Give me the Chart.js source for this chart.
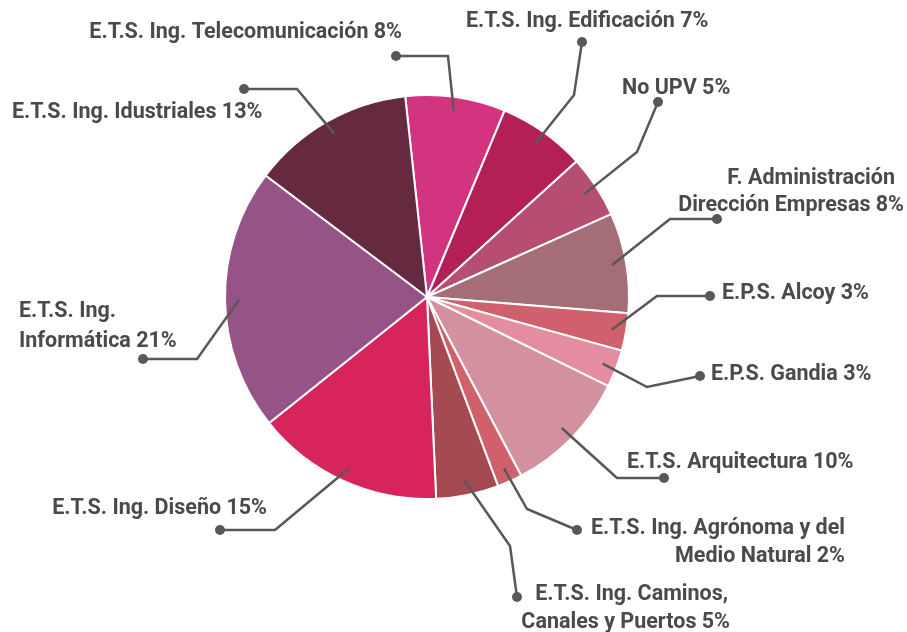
<!DOCTYPE html>
<html>
<head>
<meta charset="utf-8">
<script src="https://cdn.jsdelivr.net/npm/chart.js@4.4.1/dist/chart.umd.min.js"></script>
<style>
  html, body { margin: 0; padding: 0; background: #fff; }
  #wrap { width: 907px; height: 632px; position: relative; }
</style>
</head>
<body>
<div id="wrap"><canvas id="chart"></canvas></div>
<script>
// slices, clockwise from the top ('|' marks a line break in the callout)
const categories = [
	'E.T.S. Ing. Telecomunicación',
	'E.T.S. Ing. Edificación',
	'No UPV',
	'F. Administración|Dirección Empresas',
	'E.P.S. Alcoy',
	'E.P.S. Gandia',
	'E.T.S. Arquitectura',
	'E.T.S. Ing. Agrónoma y del|Medio Natural',
	'E.T.S. Ing. Caminos,|Canales y Puertos',
	'E.T.S. Ing. Diseño',
	'E.T.S. Ing.|Informática',
	'E.T.S. Ing. Idustriales'
];
const shares = [8, 7, 5, 8, 3, 3, 10, 2, 5, 15, 21, 13];
const colors = [
	'#D3347F', '#B22056', '#B54E72', '#A56E77', '#D0606B', '#E48DA0',
	'#D3909E', '#D0606B', '#A64A52', '#D7245A', '#965386', '#652A40'
];

// callout placement: elbow, end dot, and one anchor per text line
const callouts = [
	{ elbow: [448, 56], dot: [396, 56], lines: [[402, 31, 'right']] },
	{ elbow: [574, 95], dot: [582, 42], lines: [[466, 20, 'left']] },
	{ elbow: [637, 152], dot: [658, 102], lines: [[622, 87, 'left']] },
	{ elbow: [670, 219], dot: [717, 219], lines: [[895, 177, 'right'], [904, 204, 'right']] },
	{ elbow: [657, 296], dot: [710, 296], lines: [[722, 292, 'left']] },
	{ elbow: [647, 387], dot: [700, 376], lines: [[711, 373, 'left']] },
	{ elbow: [617, 478], dot: [664, 478], lines: [[627, 461, 'left']] },
	{ elbow: [527, 509], dot: [577, 530], lines: [[845, 527, 'right'], [845, 555, 'right']] },
	{ elbow: [510, 546], dot: [517, 597], lines: [[728, 593, 'right'], [730, 621, 'right']] },
	{ elbow: [275, 530], dot: [220, 530], lines: [[267, 507, 'right']] },
	{ elbow: [197, 359], dot: [143, 359], lines: [[19, 310, 'left'], [19, 340, 'left']] },
	{ elbow: [297, 89], dot: [244, 89], lines: [[12, 111, 'left']] }
];

const LINE_COLOR = '#58585A';
const TEXT_COLOR = '#4A4A4C';

const calloutPlugin = {
	id: 'callouts',
	afterDatasetsDraw(chart) {
		const ctx = chart.ctx;
		const arcs = chart.getDatasetMeta(0).data;
		ctx.save();
		arcs.forEach((arc, i) => {
			const c = callouts[i];
			const mid = (arc.startAngle + arc.endAngle) / 2;
			const r = arc.outerRadius * 0.93;
			const sx = arc.x + Math.cos(mid) * r;
			const sy = arc.y + Math.sin(mid) * r;

			ctx.strokeStyle = LINE_COLOR;
			ctx.lineWidth = 2.5;
			ctx.lineJoin = 'miter';
			ctx.beginPath();
			ctx.moveTo(sx, sy);
			ctx.lineTo(c.elbow[0], c.elbow[1]);
			ctx.lineTo(c.dot[0], c.dot[1]);
			ctx.stroke();

			ctx.fillStyle = LINE_COLOR;
			ctx.beginPath();
			ctx.arc(c.dot[0], c.dot[1], 5, 0, Math.PI * 2);
			ctx.fill();

			const text = (categories[i] + ' ' + shares[i] + '%').split('|');
			ctx.fillStyle = TEXT_COLOR;
			ctx.font = '700 21.5px Roboto';
			ctx.textBaseline = 'middle';
			text.forEach((t, k) => {
				const [x, y, align] = c.lines[k];
				ctx.textAlign = align;
				// middle baseline sits a little high for caps, nudge down
				ctx.fillText(t, x, y + 2);
			});
		});
		ctx.restore();
	}
};

new Chart(document.getElementById('chart'), {
	type: 'pie',
	data: {
		labels: categories.map(c => c.replace('|', ' ')),
		datasets: [{
			data: shares,
			backgroundColor: colors,
			borderColor: '#FFFFFF',
			borderWidth: 2
		}]
	},
	options: {
		responsive: true,
		maintainAspectRatio: false,
		animation: false,
		rotation: -6.2,
		layout: { padding: { left: 224, top: 94, right: 277, bottom: 132 } },
		plugins: {
			legend: { display: false },
			tooltip: { enabled: false }
		}
	},
	plugins: [calloutPlugin]
});
</script>
</body>
</html>
